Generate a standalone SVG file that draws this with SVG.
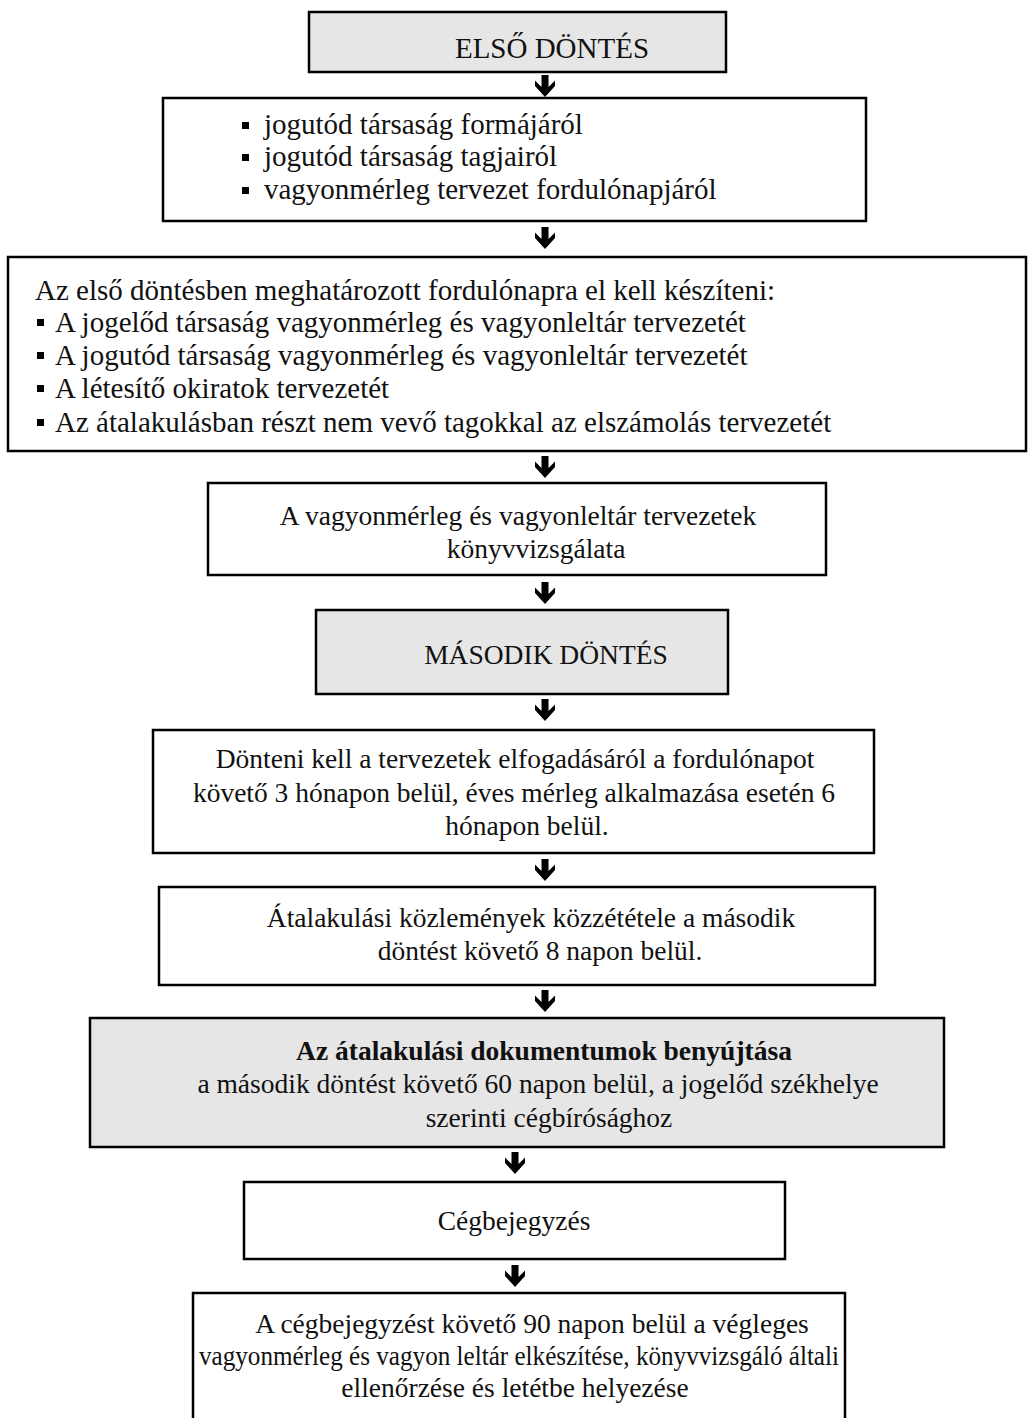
<svg xmlns="http://www.w3.org/2000/svg" width="1036" height="1418" viewBox="0 0 1036 1418">
<style>
.box{fill:#ffffff;stroke:#000;stroke-width:2.5}
.grey{fill:#e6e6e6;stroke:#000;stroke-width:2.5}
text{font-family:"Liberation Serif","Times New Roman",serif;font-size:29px;fill:#111}
.s{font-size:27.5px}
.c{text-anchor:middle}
.b{font-weight:bold}
.bul{fill:#000}
.arr{fill:#000}
</style>
<defs>
<path id="down" d="M-3.5,0 H3.5 V12 L10,5.5 V11 L0,22 L-10,11 V5.5 L-3.5,12 Z"/>
</defs>
<rect width="1036" height="1418" fill="#fff"/>

<g id="connectors" class="arr">
<use href="#down" x="545" y="75"/>
<use href="#down" x="545" y="227"/>
<use href="#down" x="545" y="456"/>
<use href="#down" x="545" y="582"/>
<use href="#down" x="545" y="699"/>
<use href="#down" x="545" y="859"/>
<use href="#down" x="545" y="990"/>
<use href="#down" x="515" y="1152"/>
<use href="#down" x="515" y="1265"/>
</g>

<g id="n1">
<rect class="grey" x="309" y="12" width="417" height="60"/>
<text class="c" x="552" y="58">ELSŐ DÖNTÉS</text>
</g>

<g id="n2">
<rect class="box" x="163" y="98" width="703" height="123"/>
<rect class="bul" x="242" y="122" width="7" height="7"/>
<rect class="bul" x="242" y="154" width="7" height="7"/>
<rect class="bul" x="242" y="187" width="7" height="7"/>
<text x="264" y="134">jogutód társaság formájáról</text>
<text x="264" y="166">jogutód társaság tagjairól</text>
<text x="264" y="199">vagyonmérleg tervezet fordulónapjáról</text>
</g>

<g id="n3">
<rect class="box" x="8" y="257" width="1018" height="194"/>
<text x="35" y="300">Az első döntésben meghatározott fordulónapra el kell készíteni:</text>
<rect class="bul" x="37" y="319" width="7" height="7"/>
<rect class="bul" x="37" y="352" width="7" height="7"/>
<rect class="bul" x="37" y="385" width="7" height="7"/>
<rect class="bul" x="37" y="419" width="7" height="7"/>
<text x="55" y="332">A jogelőd társaság vagyonmérleg és vagyonleltár tervezetét</text>
<text x="55" y="365">A jogutód társaság vagyonmérleg és vagyonleltár tervezetét</text>
<text x="55" y="398">A létesítő okiratok tervezetét</text>
<text x="55" y="432">Az átalakulásban részt nem vevő tagokkal az elszámolás tervezetét</text>
</g>

<g id="n4">
<rect class="box" x="208" y="483" width="618" height="92"/>
<text class="c s" x="518" y="525">A vagyonmérleg és vagyonleltár tervezetek</text>
<text class="c s" x="536" y="558">könyvvizsgálata</text>
</g>

<g id="n5">
<rect class="grey" x="316" y="610" width="412" height="84"/>
<text class="c s" x="546" y="664">MÁSODIK DÖNTÉS</text>
</g>

<g id="n6">
<rect class="box" x="153" y="730" width="721" height="123"/>
<text class="c s" x="515" y="768">Dönteni kell a tervezetek elfogadásáról a fordulónapot</text>
<text class="c s" x="514" y="802">követő 3 hónapon belül, éves mérleg alkalmazása esetén 6</text>
<text class="c s" x="527" y="835">hónapon belül.</text>
</g>

<g id="n7">
<rect class="box" x="159" y="887" width="716" height="98"/>
<text class="c s" x="531" y="927">Átalakulási közlemények közzététele a második</text>
<text class="c s" x="540" y="960">döntést követő 8 napon belül.</text>
</g>

<g id="n8">
<rect class="grey" x="90" y="1018" width="854" height="129"/>
<text class="c s b" x="544" y="1060">Az átalakulási dokumentumok benyújtása</text>
<text class="c s" x="538" y="1093">a második döntést követő 60 napon belül, a jogelőd székhelye</text>
<text class="c s" x="549" y="1127">szerinti cégbírósághoz</text>
</g>

<g id="n9">
<rect class="box" x="244" y="1182" width="541" height="77"/>
<text class="c s" x="514" y="1230">Cégbejegyzés</text>
</g>

<g id="n10">
<rect class="box" x="193" y="1293" width="652" height="140"/>
<text class="c s" x="532" y="1333">A cégbejegyzést követő 90 napon belül a végleges</text>
<text class="c s" x="519" y="1365" textLength="640" lengthAdjust="spacingAndGlyphs">vagyonmérleg és vagyon leltár elkészítése, könyvvizsgáló általi</text>
<text class="c s" x="515" y="1397">ellenőrzése és letétbe helyezése</text>
</g>
</svg>
